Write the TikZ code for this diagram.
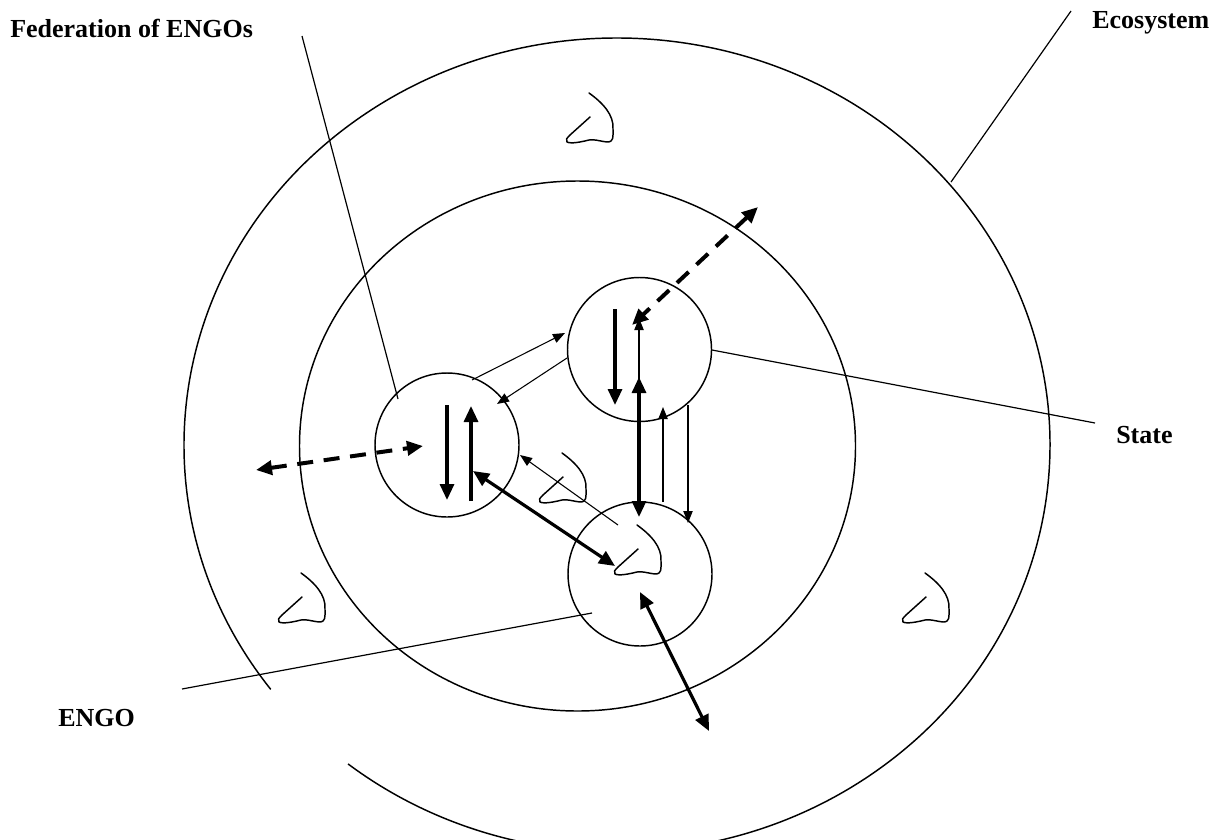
\documentclass[tikz,border=0pt]{standalone}
\usepackage{fontspec}
\setmainfont{Liberation Serif}
\usetikzlibrary{arrows.meta}
\begin{document}
\begin{tikzpicture}[x=0.75pt,y=-0.75pt,
  ring/.style={line width=1.1pt},
  circ/.style={circle, draw, line width=1.1pt, minimum size=108pt, inner sep=0pt},
  leader/.style={line width=0.9pt},
  lbl/.style={font=\fontsize{19.5}{22}\selectfont\bfseries, inner sep=0pt, anchor=base west},
  thinarr/.style={line width=0.8pt, -{Triangle[length=9pt,width=7pt]}},
  thickarr/.style={line width=2.4pt, -{Triangle[length=12pt,width=10.5pt]}},
  thickboth/.style={line width=2.4pt, {Triangle[length=12pt,width=10.5pt]}-{Triangle[length=12pt,width=10.5pt]}},
  dashboth/.style={line width=3pt, dash pattern=on 12pt off 8pt, {Triangle[length=12pt,width=10.5pt]}-{Triangle[length=12pt,width=10.5pt]}},
  leafline/.style={line width=1.1pt, line cap=round, line join=round},
  leaf/.pic={\draw[leafline] (0,0) .. controls (14,10) and (25,22) .. (24,36)
      .. controls (24,44) and (25,49) .. (18,49)
      .. controls (10,48) and (5,46) .. (0,47)
      .. controls (-8,49) and (-18,51) .. (-22,49)
      .. controls (-24,47) and (-22,45) .. (-19,42) -- (1,24);}
]
\useasboundingbox (0,0) rectangle (1216,839);

% ecosystem (outer) and state-level (inner) rings
\draw[ring] (617,445) ++(143.1:433 and 407) arc[start angle=143.1, end angle=488.4, x radius=433, y radius=407];
\draw[ring] (577.5,446) ellipse [x radius=278, y radius=265];

% small circles
\node[circ] (L) at (447,445) {};
\node[circ] (S) at (639.5,349.5) {};
\node[circ] (E) at (640,574) {};

% leaves
\pic at (589,93) {leaf};
\pic at (301,573) {leaf};
\pic at (925,573) {leaf};
\pic at (562,453) {leaf};
\pic at (637,525) {leaf};

% labels
\node[lbl] (fed) at (10,37) {Federation of ENGOs};
\node[lbl] (eco) at (1092,28) {Ecosystem};
\node[lbl] (sta) at (1116,443) {State};
\node[lbl] (eng) at (58,726) {ENGO};

% leader lines
\coordinate (fedA) at (302,36);  \coordinate (fedB) at (398,399);
\coordinate (ecoA) at (1071,11); \coordinate (ecoB) at (951,182);
\coordinate (staA) at (712,350); \coordinate (staB) at (1095,423);
\coordinate (engA) at (182,689); \coordinate (engB) at (592,613);
\draw[leader] (fedA) -- (fedB);
\draw[leader] (ecoA) -- (ecoB);
\draw[leader] (staA) -- (staB);
\draw[leader] (engA) -- (engB);

% dashed arrows
\coordinate (d1a) at (256,470); \coordinate (d1b) at (423,446);
\coordinate (d2a) at (758,207); \coordinate (d2b) at (632,325);
\draw[dashboth] (d1a) -- (d1b);
\draw[dashboth] (d2a) -- (d2b);

% arrows inside federation circle
\coordinate (l1a) at (447,405); \coordinate (l1b) at (447,500);
\coordinate (l2a) at (471,501); \coordinate (l2b) at (471,406);
\draw[thickarr] (l1a) -- (l1b);
\draw[thickarr] (l2a) -- (l2b);

% arrows in state circle
\coordinate (s1a) at (615,309); \coordinate (s1b) at (615,405);
\draw[thickarr] (s1a) -- (s1b);
\coordinate (v0a) at (639,500); \coordinate (v0b) at (639,318);
\draw[thinarr] (v0a) -- (v0b);
\coordinate (v1a) at (639,377); \coordinate (v1b) at (639,517);
\draw[thickboth] (v1a) -- (v1b);
\coordinate (v2a) at (663,502); \coordinate (v2b) at (663,407);
\draw[thinarr] (v2a) -- (v2b);
\coordinate (v3a) at (688,405); \coordinate (v3b) at (688,523);
\draw[thinarr] (v3a) -- (v3b);

% between federation and state
\coordinate (t1a) at (472,380); \coordinate (t1b) at (565,333);
\draw[thinarr] (t1a) -- (t1b);
\coordinate (t2a) at (567,358); \coordinate (t2b) at (497,404);
\draw[thinarr] (t2a) -- (t2b);

% between ENGO and federation
\coordinate (t3a) at (618,525); \coordinate (t3b) at (520,455);
\draw[thinarr] (t3a) -- (t3b);
\coordinate (k1a) at (473,471); \coordinate (k1b) at (615,566);
\draw[thickboth] (k1a) -- (k1b);

% ENGO to ecosystem
\coordinate (k2a) at (640,592); \coordinate (k2b) at (709,731);
\draw[thickboth] (k2a) -- (k2b);
\end{tikzpicture}
\end{document}
